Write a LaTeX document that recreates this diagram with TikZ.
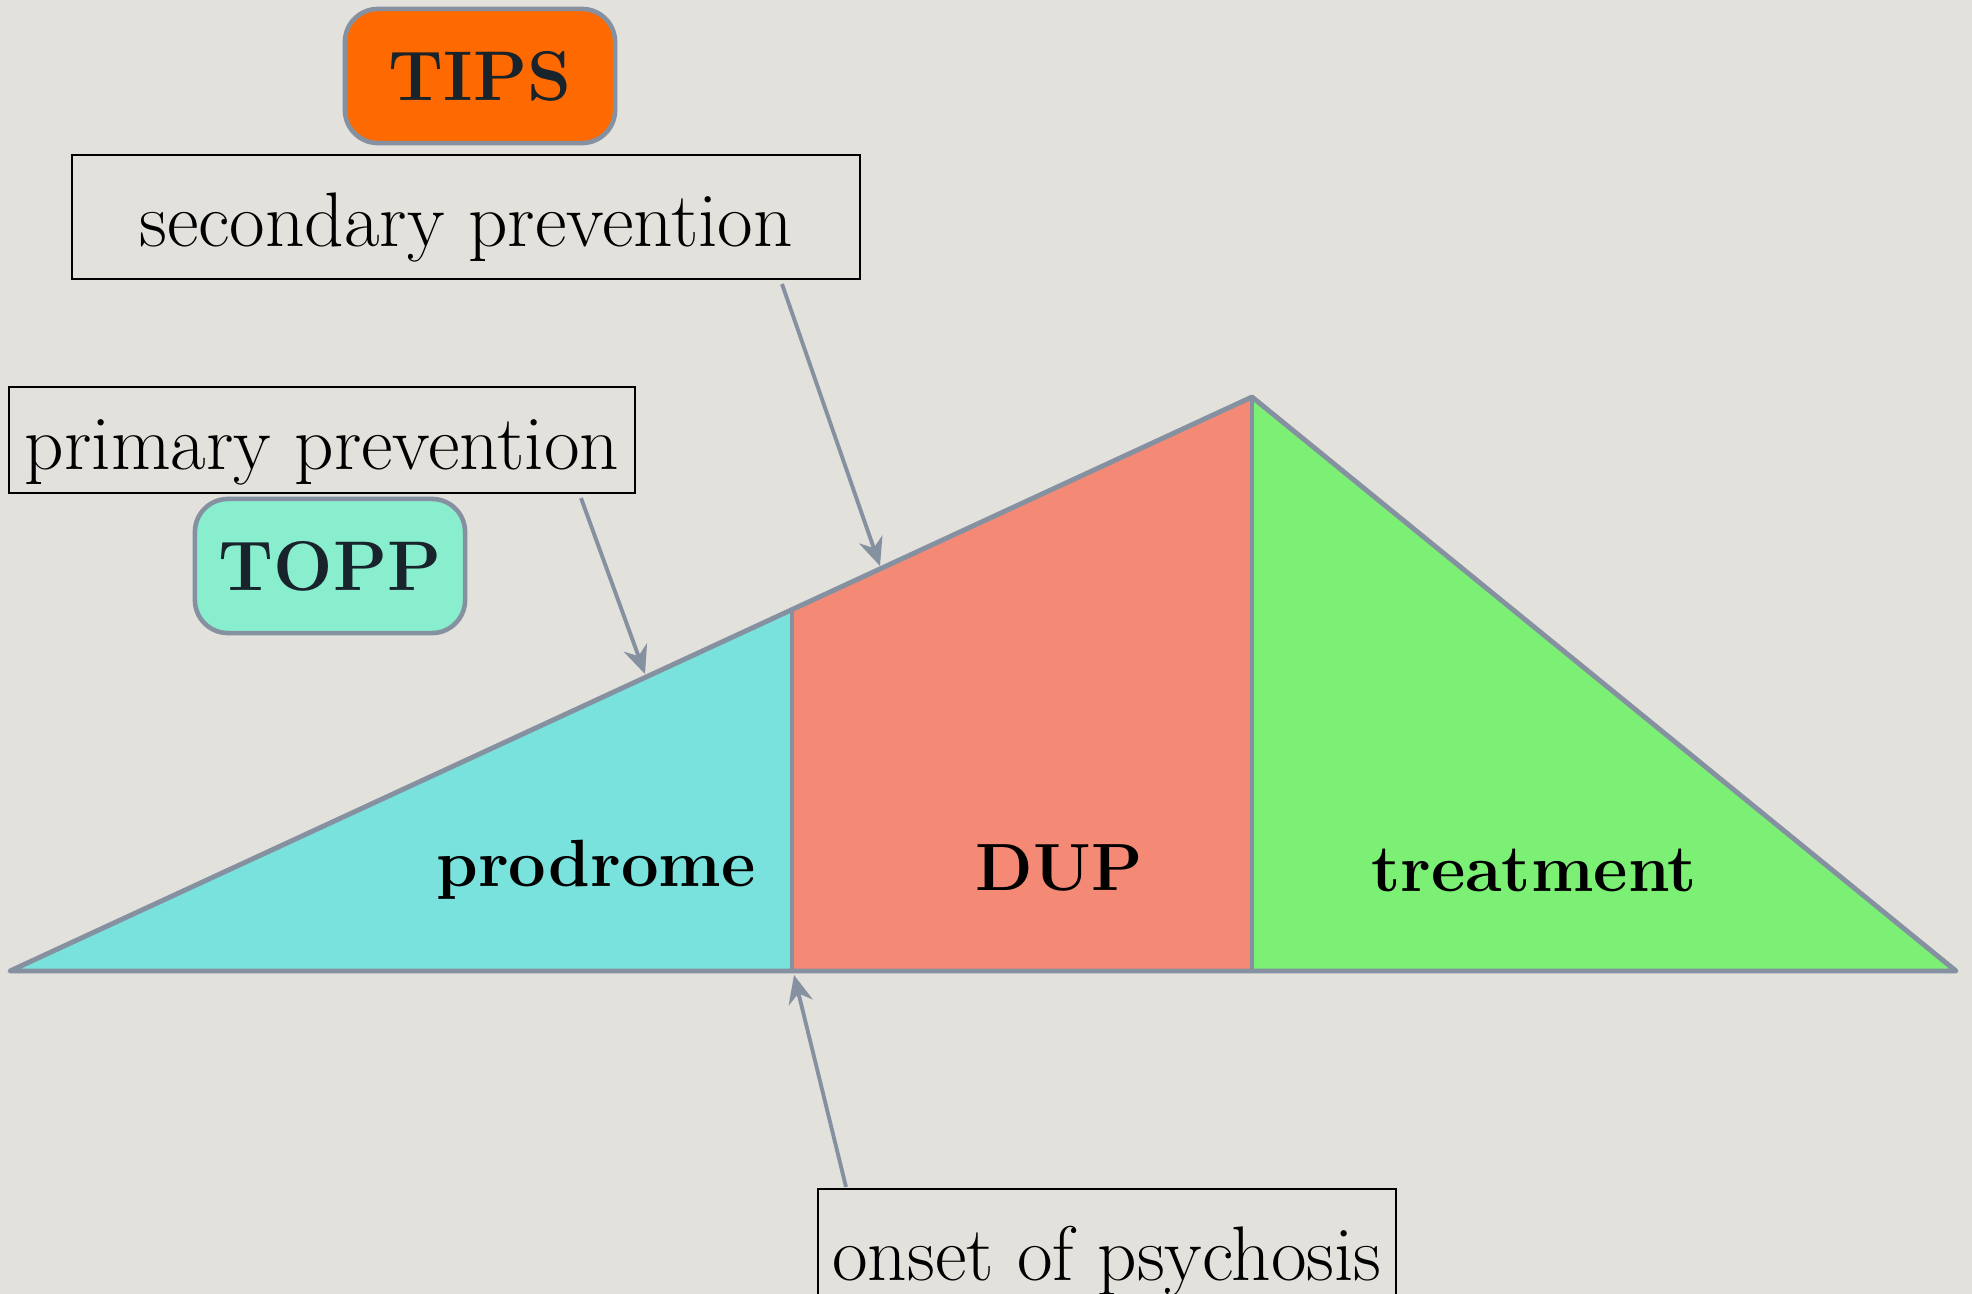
\documentclass[tikz,border=0pt]{standalone}
\usetikzlibrary{arrows.meta}
\begin{document}
\begin{tikzpicture}[x=0.01cm, y=-0.01cm,
    lblbox/.style={draw=black, line width=0.6pt, inner sep=0pt, text height=21pt, text depth=4.5pt,
      font=\fontsize{22}{26}\selectfont},
    pillbox/.style={draw=my-gray, line width=1.3pt, rounded corners=0.33cm, inner sep=0pt,
      minimum width=2.7cm, text=my-ink, font=\bfseries\fontsize{20}{24}\selectfont},
    pointer/.style={draw=my-gray, line width=1.1pt, -{Stealth[length=8pt, width=7pt]}},
    part/.style={font=\bfseries\fontsize{19}{23}\selectfont}]
    \definecolor{my-paper}{HTML}{E3E1DC}
    \definecolor{my-gray}{HTML}{8591A0}
    \definecolor{my-ink}{HTML}{18232B}
    \definecolor{my-cyan}{HTML}{7AE2DC}
    \definecolor{my-salmon}{HTML}{F48A76}
    \definecolor{my-green}{HTML}{7CF074}
    \definecolor{my-orange}{HTML}{FF6A00}
    \definecolor{my-mint}{HTML}{88EECE}
    \fill[my-paper] (0,0) rectangle (1972,1294);
    \useasboundingbox (0,0) rectangle (1972,1294);
    \coordinate (L) at (10,971);
    \coordinate (A) at (792,971);
    \coordinate (At) at (792,610);
    \coordinate (B) at (1252,971);
    \coordinate (Bt) at (1252,397);
    \coordinate (R) at (1956,971);
    \fill[my-cyan] (L) -- (At) -- (A) -- cycle;
    \fill[my-salmon] (A) -- (At) -- (Bt) -- (B) -- cycle;
    \fill[my-green] (B) -- (Bt) -- (R) -- cycle;
    \draw[my-gray, line width=1.4pt, line join=round] (L) -- (Bt) -- (R) -- cycle;
    \draw[my-gray, line width=1.4pt] (At) -- (A);
    \draw[my-gray, line width=1.4pt] (Bt) -- (B);
    \node[part] (prod) at (596,870) {prodrome};
    \node[part] (dup) at (1059,868) {DUP};
    \node[part] (treat) at (1534,870) {treatment};
    \node[pillbox, fill=my-orange, minimum height=1.34cm] (tips) at (480,76) {TIPS};
    \node[pillbox, fill=my-mint, minimum height=1.34cm] (topp) at (330,566) {TOPP};
    \node[lblbox, minimum width=7.88cm, minimum height=1.24cm] (second) at (466,217) {secondary prevention};
    \node[lblbox, minimum width=6.25cm, minimum height=1.06cm] (primary) at (322,440) {primary prevention};
    \node[lblbox, minimum width=5.77cm, minimum height=1.24cm] (onset) at (1107,1251) {onset of psychosis};
    \coordinate (sA) at (782,284);
    \coordinate (sB) at (880,566);
    \coordinate (pA) at (581,498);
    \coordinate (pB) at (645,674);
    \coordinate (oA) at (846,1187);
    \coordinate (oB) at (794,975);
    \draw[pointer] (sA) -- (sB);
    \draw[pointer] (pA) -- (pB);
    \draw[pointer] (oA) -- (oB);
\end{tikzpicture}
\end{document}
